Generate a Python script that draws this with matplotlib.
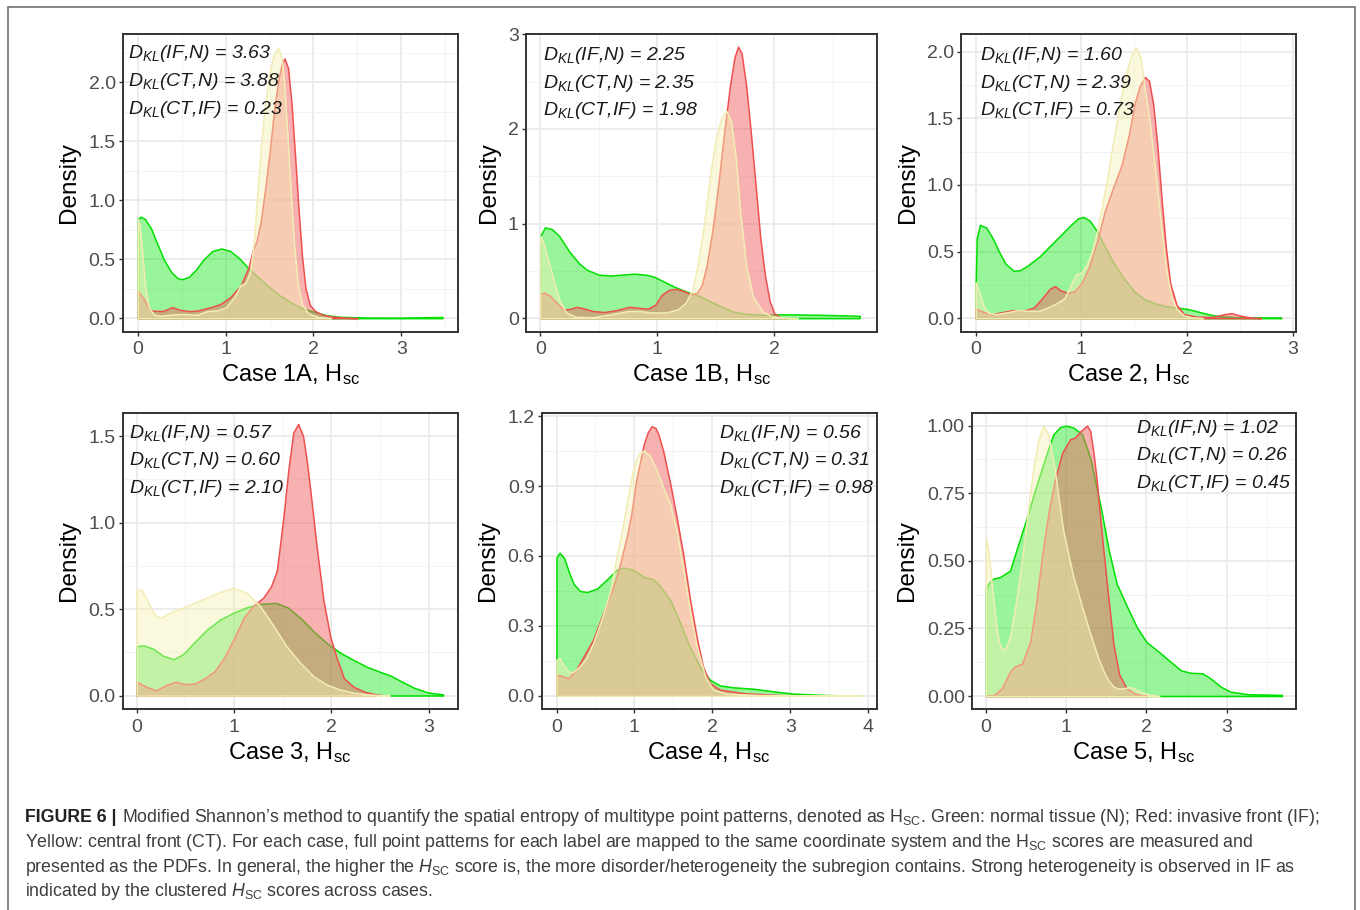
import matplotlib
matplotlib.use("Agg")
import matplotlib.pyplot as plt
from matplotlib.patches import Rectangle
from matplotlib.ticker import FixedLocator

plt.rcParams['font.family'] = ['Liberation Sans', 'DejaVu Sans']
plt.rcParams['mathtext.fontset'] = 'custom'
plt.rcParams['mathtext.rm'] = 'Liberation Sans'
plt.rcParams['mathtext.it'] = 'Liberation Sans:italic'
plt.rcParams['mathtext.bf'] = 'Liberation Sans:bold'

# ---- data: (H_sc, density) ----
case_names = ['Case 1A', 'Case 1B', 'Case 2', 'Case 3', 'Case 4', 'Case 5']
dkl_if_n = [3.63, 2.25, 1.60, 0.57, 0.56, 1.02]
dkl_ct_n = [3.88, 2.35, 2.39, 0.60, 0.31, 0.26]
dkl_ct_if = [0.23, 1.98, 0.73, 2.10, 0.98, 0.45]

c1a_n = [(0, 0.84), (0.03, 0.86), (0.08, 0.84), (0.15, 0.76), (0.22, 0.63), (0.3, 0.49), (0.38, 0.39),
         (0.45, 0.34), (0.5, 0.33), (0.58, 0.35), (0.66, 0.41), (0.75, 0.5), (0.85, 0.57), (0.95, 0.59),
         (1.05, 0.57), (1.15, 0.51), (1.25, 0.43), (1.35, 0.36), (1.47, 0.28), (1.6, 0.2), (1.73, 0.14),
         (1.85, 0.09), (2.0, 0.055), (2.15, 0.025), (2.3, 0.012), (2.6, 0.005), (3.0, 0.004), (3.3, 0.008),
         (3.47, 0.01)]
c1a_if = [(0, 0.23), (0.06, 0.17), (0.12, 0.09), (0.16, 0.064), (0.28, 0.06), (0.39, 0.093), (0.485, 0.07),
          (0.58, 0.06), (0.675, 0.064), (0.83, 0.093), (0.94, 0.12), (1.05, 0.177), (1.17, 0.275),
          (1.26, 0.43), (1.31, 0.58), (1.35, 0.65), (1.4, 0.82), (1.45, 1.1), (1.5, 1.4), (1.55, 1.75),
          (1.6, 2.02), (1.64, 2.16), (1.67, 2.2), (1.71, 2.12), (1.75, 1.82), (1.79, 1.38), (1.83, 0.92),
          (1.87, 0.52), (1.91, 0.25), (1.96, 0.11), (2.02, 0.06), (2.1, 0.03), (2.2, 0.015), (2.35, 0.005),
          (2.5, 0)]
c1a_ct = [(0, 0.84), (0.02, 0.78), (0.05, 0.55), (0.08, 0.28), (0.12, 0.1), (0.18, 0.03), (0.25, 0.02),
          (0.37, 0.03), (0.52, 0.036), (0.67, 0.028), (0.79, 0.06), (0.9, 0.065), (1.0, 0.09), (1.1, 0.18),
          (1.17, 0.28), (1.23, 0.3), (1.28, 0.4), (1.32, 0.65), (1.36, 1.05), (1.4, 1.45), (1.45, 1.82),
          (1.5, 2.08), (1.55, 2.24), (1.6, 2.29), (1.64, 2.2), (1.67, 1.96), (1.7, 1.58), (1.74, 1.08),
          (1.78, 0.62), (1.82, 0.3), (1.87, 0.12), (1.94, 0.04), (2.05, 0.01), (2.2, 0)]

c1b_n = [(0, 0.87), (0.04, 0.96), (0.1, 0.94), (0.16, 0.87), (0.25, 0.7), (0.33, 0.58), (0.4, 0.51),
         (0.5, 0.46), (0.6, 0.45), (0.7, 0.46), (0.8, 0.47), (0.9, 0.46), (0.97, 0.44), (1.05, 0.39),
         (1.15, 0.33), (1.25, 0.28), (1.35, 0.24), (1.45, 0.18), (1.55, 0.12), (1.65, 0.07), (1.75, 0.045),
         (1.9, 0.035), (2.05, 0.04), (2.2, 0.04), (2.4, 0.035), (2.6, 0.03), (2.73, 0.025)]
c1b_if = [(0, 0.25), (0.03, 0.27), (0.08, 0.24), (0.14, 0.16), (0.2, 0.09), (0.26, 0.1), (0.31, 0.12),
          (0.38, 0.1), (0.45, 0.075), (0.55, 0.065), (0.65, 0.085), (0.76, 0.12), (0.84, 0.11), (0.92, 0.1),
          (0.98, 0.14), (1.04, 0.25), (1.1, 0.3), (1.16, 0.31), (1.22, 0.29), (1.29, 0.25), (1.34, 0.27),
          (1.38, 0.35), (1.42, 0.55), (1.47, 0.92), (1.52, 1.4), (1.57, 1.95), (1.62, 2.45), (1.66, 2.76),
          (1.69, 2.87), (1.72, 2.8), (1.76, 2.45), (1.8, 1.95), (1.84, 1.4), (1.88, 0.85), (1.92, 0.45),
          (1.96, 0.18), (2.0, 0.05), (2.05, 0.01), (2.1, 0)]
c1b_ct = [(0, 0.87), (0.03, 0.78), (0.07, 0.6), (0.11, 0.42), (0.16, 0.2), (0.22, 0.06), (0.3, 0.015),
          (0.45, 0.01), (0.6, 0.04), (0.75, 0.075), (0.85, 0.075), (0.95, 0.06), (1.07, 0.06), (1.17, 0.09),
          (1.24, 0.16), (1.3, 0.3), (1.35, 0.6), (1.4, 1.0), (1.45, 1.5), (1.5, 1.9), (1.55, 2.12),
          (1.59, 2.19), (1.63, 2.08), (1.67, 1.7), (1.71, 1.1), (1.76, 0.55), (1.82, 0.22), (1.9, 0.07),
          (1.98, 0.02), (2.1, 0.005), (2.2, 0)]

c2_n = [(0, 0.27), (0.01, 0.6), (0.04, 0.7), (0.1, 0.68), (0.16, 0.6), (0.22, 0.5), (0.28, 0.41),
        (0.36, 0.355), (0.42, 0.36), (0.5, 0.4), (0.6, 0.46), (0.7, 0.54), (0.8, 0.62), (0.9, 0.7),
        (0.97, 0.75), (1.02, 0.76), (1.08, 0.73), (1.15, 0.65), (1.22, 0.54), (1.3, 0.42), (1.4, 0.3),
        (1.5, 0.2), (1.6, 0.14), (1.7, 0.11), (1.8, 0.09), (1.9, 0.08), (2.0, 0.07), (2.1, 0.05),
        (2.2, 0.03), (2.3, 0.015), (2.5, 0.006), (2.7, 0.005), (2.89, 0.005)]
c2_if = [(0, 0.07), (0.08, 0.045), (0.15, 0.03), (0.25, 0.045), (0.35, 0.06), (0.45, 0.055), (0.55, 0.08),
         (0.63, 0.15), (0.7, 0.22), (0.75, 0.24), (0.8, 0.21), (0.87, 0.19), (0.93, 0.2), (1.0, 0.26),
         (1.07, 0.38), (1.15, 0.58), (1.22, 0.8), (1.3, 0.98), (1.38, 1.15), (1.45, 1.38), (1.5, 1.6),
         (1.55, 1.74), (1.6, 1.81), (1.64, 1.78), (1.68, 1.6), (1.72, 1.28), (1.76, 0.88), (1.8, 0.52),
         (1.84, 0.26), (1.9, 0.1), (1.97, 0.03), (2.1, 0.01), (2.25, 0.01), (2.35, 0.03), (2.42, 0.038),
         (2.5, 0.02), (2.6, 0.005), (2.7, 0)]
c2_ct = [(0, 0.27), (0.03, 0.2), (0.07, 0.1), (0.12, 0.04), (0.2, 0.03), (0.3, 0.045), (0.4, 0.06),
         (0.5, 0.055), (0.6, 0.055), (0.68, 0.08), (0.76, 0.11), (0.84, 0.15), (0.9, 0.25), (0.95, 0.33),
         (1.0, 0.34), (1.05, 0.4), (1.1, 0.5), (1.15, 0.66), (1.2, 0.86), (1.25, 1.08), (1.3, 1.32),
         (1.35, 1.55), (1.4, 1.75), (1.45, 1.92), (1.49, 2.01), (1.52, 2.03), (1.56, 1.95), (1.6, 1.72),
         (1.65, 1.45), (1.7, 1.1), (1.75, 0.72), (1.8, 0.38), (1.85, 0.16), (1.9, 0.07), (1.97, 0.02),
         (2.05, 0.005), (2.15, 0)]

c3_n = [(0, 0.285), (0.07, 0.29), (0.17, 0.27), (0.27, 0.23), (0.38, 0.21), (0.48, 0.24), (0.58, 0.3),
        (0.72, 0.38), (0.86, 0.44), (1.0, 0.48), (1.13, 0.51), (1.27, 0.53), (1.43, 0.535), (1.55, 0.51),
        (1.68, 0.45), (1.82, 0.37), (1.96, 0.3), (2.1, 0.245), (2.23, 0.205), (2.37, 0.165), (2.51, 0.135),
        (2.61, 0.115), (2.71, 0.085), (2.85, 0.045), (2.99, 0.018), (3.15, 0.006)]
c3_if = [(0, 0.08), (0.1, 0.05), (0.2, 0.03), (0.3, 0.06), (0.4, 0.08), (0.5, 0.065), (0.6, 0.07),
         (0.7, 0.1), (0.8, 0.14), (0.9, 0.22), (1.0, 0.33), (1.1, 0.45), (1.2, 0.52), (1.3, 0.565),
         (1.38, 0.63), (1.44, 0.72), (1.48, 0.9), (1.51, 1.04), (1.56, 1.31), (1.61, 1.52), (1.66, 1.57),
         (1.71, 1.5), (1.75, 1.35), (1.78, 1.21), (1.85, 0.86), (1.92, 0.55), (1.99, 0.34), (2.06, 0.21),
         (2.13, 0.1), (2.23, 0.05), (2.35, 0.02), (2.45, 0.008), (2.55, 0)]
c3_ct = [(0, 0.61), (0.05, 0.61), (0.1, 0.56), (0.15, 0.5), (0.2, 0.46), (0.25, 0.45), (0.34, 0.48),
         (0.48, 0.51), (0.65, 0.55), (0.82, 0.59), (0.99, 0.623), (1.13, 0.594), (1.27, 0.516), (1.41, 0.4),
         (1.54, 0.285), (1.68, 0.19), (1.82, 0.11), (1.95, 0.064), (2.09, 0.035), (2.23, 0.016),
         (2.4, 0.005), (2.6, 0)]

c4_n = [(0, 0.595), (0.04, 0.614), (0.1, 0.59), (0.16, 0.53), (0.22, 0.48), (0.3, 0.45), (0.39, 0.445),
        (0.52, 0.46), (0.65, 0.5), (0.77, 0.54), (0.86, 0.55), (0.99, 0.54), (1.12, 0.51), (1.24, 0.5),
        (1.33, 0.47), (1.46, 0.41), (1.59, 0.31), (1.71, 0.21), (1.84, 0.125), (1.97, 0.068), (2.1, 0.044),
        (2.27, 0.036), (2.53, 0.03), (2.78, 0.019), (3.04, 0.009), (3.47, 0.003), (3.92, 0.0)]
c4_if = [(0, 0.09), (0.07, 0.085), (0.15, 0.075), (0.25, 0.11), (0.35, 0.17), (0.47, 0.24), (0.56, 0.32),
         (0.65, 0.4), (0.74, 0.48), (0.82, 0.57), (0.9, 0.68), (0.96, 0.78), (1.02, 0.92), (1.07, 1.0),
         (1.12, 1.08), (1.17, 1.13), (1.22, 1.157), (1.27, 1.15), (1.31, 1.12), (1.37, 1.05), (1.46, 0.91),
         (1.54, 0.77), (1.63, 0.6), (1.71, 0.42), (1.8, 0.25), (1.88, 0.125), (1.97, 0.054), (2.1, 0.026),
         (2.4, 0.011), (2.8, 0.004), (3.05, 0)]
c4_ct = [(0, 0.154), (0.04, 0.16), (0.09, 0.13), (0.15, 0.105), (0.2, 0.1), (0.28, 0.12), (0.38, 0.16),
         (0.47, 0.225), (0.58, 0.33), (0.69, 0.45), (0.77, 0.595), (0.84, 0.71), (0.92, 0.86), (0.99, 0.98),
         (1.05, 1.036), (1.12, 1.053), (1.2, 1.03), (1.29, 0.965), (1.37, 0.894), (1.46, 0.82), (1.54, 0.71),
         (1.63, 0.54), (1.71, 0.37), (1.8, 0.21), (1.91, 0.083), (2.01, 0.026), (2.18, 0.009), (2.6, 0.003),
         (3.2, 0.001), (3.92, 0)]

c5_n = [(0, 0.397), (0.04, 0.42), (0.09, 0.434), (0.175, 0.44), (0.3, 0.464), (0.38, 0.54), (0.51, 0.66),
        (0.63, 0.78), (0.76, 0.9), (0.84, 0.968), (0.925, 0.995), (1.0, 1.0), (1.09, 0.993), (1.2, 0.968),
        (1.3, 0.88), (1.43, 0.7), (1.53, 0.54), (1.63, 0.415), (1.76, 0.33), (1.88, 0.255), (2.0, 0.2),
        (2.17, 0.16), (2.3, 0.127), (2.43, 0.095), (2.55, 0.086), (2.7, 0.084), (2.8, 0.065), (2.93, 0.034),
        (3.05, 0.016), (3.26, 0.007), (3.69, 0.004)]
c5_if = [(0, 0), (0.1, 0.003), (0.2, 0.03), (0.3, 0.09), (0.36, 0.11), (0.45, 0.12), (0.55, 0.2),
         (0.62, 0.33), (0.7, 0.52), (0.78, 0.68), (0.86, 0.8), (0.95, 0.9), (1.05, 0.95), (1.11, 0.956),
         (1.18, 0.98), (1.26, 1.0), (1.3, 0.98), (1.34, 0.9), (1.38, 0.8), (1.41, 0.7), (1.46, 0.55),
         (1.52, 0.38), (1.59, 0.19), (1.66, 0.08), (1.75, 0.03), (1.85, 0.01), (1.95, 0.002), (2.02, 0)]
c5_ct = [(0, 0.583), (0.03, 0.54), (0.07, 0.42), (0.12, 0.28), (0.16, 0.2), (0.2, 0.17), (0.25, 0.18),
         (0.3, 0.22), (0.36, 0.32), (0.42, 0.44), (0.49, 0.6), (0.55, 0.75), (0.6, 0.86), (0.65, 0.944),
         (0.715, 1.0), (0.777, 0.969), (0.82, 0.9), (0.86, 0.833), (0.91, 0.72), (0.964, 0.612),
         (1.03, 0.52), (1.09, 0.44), (1.15, 0.38), (1.21, 0.317), (1.28, 0.25), (1.34, 0.194), (1.4, 0.14),
         (1.46, 0.096), (1.52, 0.06), (1.59, 0.034), (1.65, 0.028), (1.71, 0.028), (1.77, 0.032),
         (1.82, 0.032), (1.87, 0.024), (1.92, 0.016), (2.04, 0.004), (2.16, 0)]

curves_n = [c1a_n, c1b_n, c2_n, c3_n, c4_n, c5_n]
curves_if = [c1a_if, c1b_if, c2_if, c3_if, c4_if, c5_if]
curves_ct = [c1a_ct, c1b_ct, c2_ct, c3_ct, c4_ct, c5_ct]

x_ticks = [[0, 1, 2, 3], [0, 1, 2], [0, 1, 2, 3], [0, 1, 2, 3], [0, 1, 2, 3, 4], [0, 1, 2, 3]]
y_ticks = [[0, 0.5, 1.0, 1.5, 2.0], [0, 1, 2, 3], [0, 0.5, 1.0, 1.5, 2.0], [0, 0.5, 1.0, 1.5],
           [0, 0.3, 0.6, 0.9, 1.2], [0, 0.25, 0.5, 0.75, 1.0]]
y_fmt = ['{:.1f}', '{:.0f}', '{:.1f}', '{:.1f}', '{:.1f}', '{:.2f}']

# ---- layout (pixels in a 1360 x 910 figure) ----
W, H = 1360, 910
ax_px = [(122.7, 34.3, 457.7, 331.7), (525.7, 34.3, 876.7, 331.7), (961, 34.3, 1296, 331.7),
         (122.7, 412.7, 457.7, 709), (541.7, 412.7, 876.7, 709), (971.7, 412.7, 1296, 709)]
x_lims = [(-0.1735, 3.6435), (-0.125, 2.875), (-0.139, 3.03), (-0.144, 3.30), (-0.19, 4.11), (-0.178, 3.865)]
y_lims = [(-0.1145, 2.4045), (-0.143, 3.0), (-0.1015, 2.13), (-0.078, 1.635), (-0.057, 1.215), (-0.048, 1.048)]
txt_px = [(127.5, 58.5), (543, 60), (980, 60), (129, 438), (719, 438), (1136, 433)]
txt_step = 27.5

col_n = '#00E000'
col_if = '#EE5050'
col_ct = '#F2EDB5'
fill_n = (0 / 255, 230 / 255, 0 / 255, 0.4)
fill_if = (240 / 255, 100 / 255, 100 / 255, 0.5)
fill_ct = (245 / 255, 240 / 255, 180 / 255, 0.45)


def minor_ticks(major, lim):
    step = major[1] - major[0]
    out = []
    v = major[0] - step / 2
    while v < lim[1]:
        if v > lim[0]:
            out.append(v)
        v += step
    return out


def draw_density(ax, pts, line_col, fill_col, z):
    xs = [p[0] for p in pts]
    ys = [p[1] for p in pts]
    ax.fill_between(xs, ys, 0, facecolor=fill_col, edgecolor=line_col, linewidth=1.1, zorder=z)


fig = plt.figure(figsize=(W / 100, H / 100), dpi=100)

for i in range(6):
    l, t, r, b = ax_px[i]
    ax = fig.add_axes([l / W, 1 - b / H, (r - l) / W, (b - t) / H])
    ax.set_xlim(*x_lims[i])
    ax.set_ylim(*y_lims[i])

    draw_density(ax, curves_n[i], col_n, fill_n, 2)
    draw_density(ax, curves_if[i], col_if, fill_if, 3)
    draw_density(ax, curves_ct[i], col_ct, fill_ct, 4)

    ax.set_xticks(x_ticks[i])
    ax.set_xticklabels([str(v) for v in x_ticks[i]])
    ax.set_yticks(y_ticks[i])
    ax.set_yticklabels([y_fmt[i].format(v) for v in y_ticks[i]])
    ax.xaxis.set_minor_locator(FixedLocator(minor_ticks(x_ticks[i], x_lims[i])))
    ax.yaxis.set_minor_locator(FixedLocator(minor_ticks(y_ticks[i], y_lims[i])))
    ax.grid(which='major', color='#EBEBEB', linewidth=1.3, zorder=0)
    ax.grid(which='minor', color='#F3F3F3', linewidth=0.7, zorder=0)
    ax.set_axisbelow(True)
    ax.tick_params(which='major', direction='out', length=3, width=1.0, color='#333333',
                   labelsize=14, labelcolor='#4D4D4D', pad=2)
    ax.tick_params(axis='x', which='major', pad=4)
    ax.tick_params(which='minor', length=0)
    for s in ax.spines.values():
        s.set_color('#333333')
        s.set_linewidth(1.4)
        s.set_zorder(6)

    ax.set_ylabel('Density', fontsize=17.5, labelpad=6, color='black')
    ax.set_xlabel(case_names[i] + r', H$_{\mathrm{sc}}$', fontsize=17, labelpad=3, color='black')

    tx, ty = txt_px[i]
    lines = [r'$D_{KL}$(IF,N) = ' + f'{dkl_if_n[i]:.2f}',
             r'$D_{KL}$(CT,N) = ' + f'{dkl_ct_n[i]:.2f}',
             r'$D_{KL}$(CT,IF) = ' + f'{dkl_ct_if[i]:.2f}']
    for k, s in enumerate(lines):
        fig.text(tx / W, 1 - (ty + k * txt_step) / H, s, fontsize=14, fontstyle='italic',
                 ha='left', va='baseline', color='#1a1a1a', zorder=10)

# outer frame
fig.patches.append(Rectangle((8 / W, -0.02), (1355 - 8) / W, 1.02 - 7 / H, transform=fig.transFigure,
                             fill=False, edgecolor='#666666', linewidth=1.1, clip_on=False))

# caption
cap_x = 25
cap_base = [822, 847, 871.5, 896]
cap_lines = [
    "Modified Shannon\u2019s method to quantify the spatial entropy of multitype point patterns, denoted as "
    r"H$_{\mathrm{SC}}$. Green: normal tissue (N); Red: invasive front (IF);",
    r"Yellow: central front (CT). For each case, full point patterns for each label are mapped to the same "
    r"coordinate system and the H$_{\mathrm{SC}}$ scores are measured and",
    r"presented as the PDFs. In general, the higher the $H_{\mathrm{SC}}$ score is, the more "
    r"disorder/heterogeneity the subregion contains. Strong heterogeneity is observed in IF as",
    r"indicated by the clustered $H_{\mathrm{SC}}$ scores across cases.",
]
cap_size = 12.8
cap_col = '#3C3C3C'
renderer = fig.canvas.get_renderer()
head = fig.text(cap_x / W, 1 - cap_base[0] / H, 'FIGURE 6 |', fontsize=cap_size, fontweight='bold',
                color='#222222', ha='left', va='baseline')
hw = head.get_window_extent(renderer=renderer).width
fig.text((cap_x + hw + 5) / W, 1 - cap_base[0] / H, cap_lines[0], fontsize=cap_size, color=cap_col,
         ha='left', va='baseline')
for k in range(1, 4):
    fig.text(cap_x / W, 1 - cap_base[k] / H, cap_lines[k], fontsize=cap_size, color=cap_col,
             ha='left', va='baseline')

fig.savefig('out.png', dpi=100)
